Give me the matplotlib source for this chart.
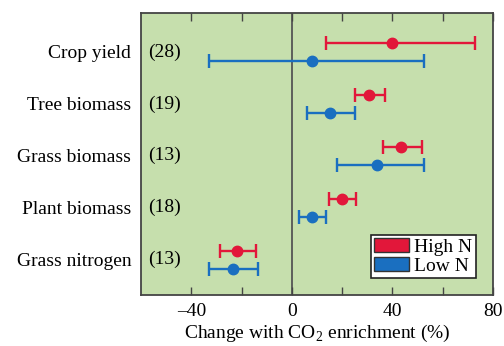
import matplotlib
matplotlib.use("Agg")
import matplotlib.pyplot as plt
from matplotlib.patches import Patch
import numpy as np

categories = ["Crop yield", "Tree biomass", "Grass biomass", "Plant biomass", "Grass nitrogen"]
counts = ["(28)", "(19)", "(13)", "(18)", "(13)"]
high_mean = [40, 30.5, 43.6, 20, -21.8]
high_lo = [13.6, 25, 36.3, 14.9, -28.5]
high_hi = [73, 37.1, 51.9, 25.5, -14.1]
low_mean = [8.1, 15.2, 33.7, 8.1, -23.6]
low_lo = [-32.9, 6, 18, 2.7, -32.9]
low_hi = [52.6, 25.2, 52.7, 13.5, -13.6]
xticks_major = [-40, 0, 40, 80]
xtick_labels = ["\u201340", "0", "40", "80"]
xticks_minor = [-20, 20, 60]

plt.rcParams['font.family'] = ['Liberation Serif', 'DejaVu Serif']
plt.rcParams['mathtext.fontset'] = 'custom'
plt.rcParams['mathtext.rm'] = 'Liberation Serif'

RED = "#E2173A"
BLUE = "#1A6FC0"
GREEN = "#C6DFAD"
FS = 14

fig = plt.figure(figsize=(5.04, 3.46), dpi=100)
ax = fig.add_axes([141/504, 1-295/346, (493-141)/504, (295-13)/346])
ax.set_facecolor(GREEN)

y = np.arange(len(categories))
off = 0.17
hm = np.array(high_mean); lm = np.array(low_mean)
ax.errorbar(hm, y - off, xerr=[hm - np.array(high_lo), np.array(high_hi) - hm],
            fmt='o', color=RED, ms=7.5, elinewidth=1.7, capsize=5, capthick=1.7, zorder=3)
ax.errorbar(lm, y + off, xerr=[lm - np.array(low_lo), np.array(low_hi) - lm],
            fmt='o', color=BLUE, ms=7.5, elinewidth=1.7, capsize=5, capthick=1.7, zorder=3)

ax.axvline(0, color="#555555", lw=1.3, zorder=1)
ax.set_xlim(-60, 80)
ax.set_ylim(4.68, -0.75)

ax.set_yticks(y)
ax.set_yticklabels(categories, fontsize=FS)
ax.tick_params(axis='y', length=0, pad=7)
for i, c in enumerate(counts):
    ax.text(0.02, i, c, transform=ax.get_yaxis_transform(), fontsize=FS, va='center', ha='left')

ax.set_xticks(xticks_major)
ax.set_xticklabels(xtick_labels, fontsize=FS)
ax.set_xticks(xticks_minor, minor=True)
ax.tick_params(axis='x', which='both', direction='in', length=6, width=1, top=True,
               color="#444444", pad=6)
ax.set_xlabel(r"Change with CO$_\mathregular{2}$ enrichment (%)", fontsize=FS, labelpad=2)

for s in ax.spines.values():
    s.set_color("#444444")
    s.set_linewidth(1.3)

handles = [Patch(facecolor=RED, edgecolor="#333333", label="High N"),
           Patch(facecolor=BLUE, edgecolor="#333333", label="Low N")]
leg = ax.legend(handles=handles, loc='lower right', fontsize=FS, frameon=True, fancybox=False,
                edgecolor="#222222", framealpha=1, handlelength=1.8, handleheight=0.7,
                handletextpad=0.3, borderpad=0.15, labelspacing=0.05, borderaxespad=0.9)
leg.get_frame().set_linewidth(1.2)

fig.savefig("out.png", dpi=100)
